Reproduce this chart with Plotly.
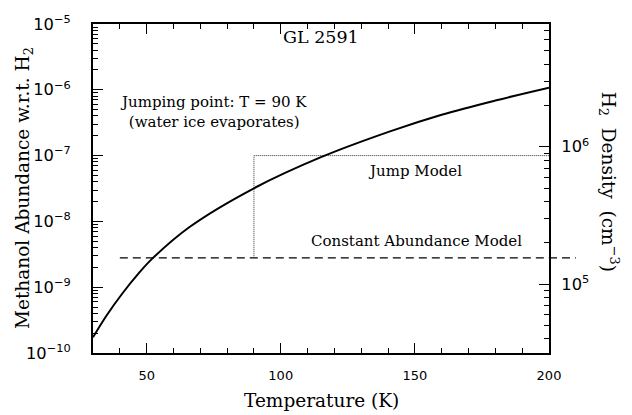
import plotly.graph_objects as go

# H2 density profile of GL 2591 as a function of dust temperature
temperature = [30, 35, 41, 47, 52, 66, 90, 115, 141, 160, 180, 200]
h2_density = [4.11e4, 5.9e4, 8.6e4, 1.2e5, 1.53e5, 2.61e5, 4.99e5, 8.4e5,
              1.30e6, 1.71e6, 2.17e6, 2.69e6]

# Methanol abundance models
const_T = [40, 200]
const_T_end = 210          # constant-abundance line runs a bit past the frame
const_abund = 2.8e-9
jump_T = [90, 90, 200]
jump_abund = [2.8e-9, 1.0e-7, 1.0e-7]

X_RANGE = [30, 200]
Y_LOG_RANGE = [-10, -5]
Y2_LOG_RANGE = [4.5, 6.893]

SERIF = "DejaVu Serif"
SANS = "DejaVu Sans"

fig = go.Figure()

fig.add_trace(go.Scatter(
    x=const_T, y=[const_abund] * len(const_T), mode="lines",
    line=dict(color="black", width=1.3, dash="8px,5px"),
    showlegend=False, hoverinfo="skip"))

fig.add_trace(go.Scatter(
    x=jump_T, y=jump_abund, mode="lines",
    line=dict(color="#333333", width=1, dash="1px,1px"),
    showlegend=False, hoverinfo="skip"))

fig.add_trace(go.Scatter(
    x=temperature, y=h2_density, mode="lines", yaxis="y2",
    line=dict(color="black", width=2, shape="spline", smoothing=1.0),
    showlegend=False, hoverinfo="skip"))


def to_paper_x(t):
    return (t - X_RANGE[0]) / (X_RANGE[1] - X_RANGE[0])


# overhang of the constant-abundance line beyond the right frame
fig.add_shape(type="line", xref="paper", yref="y",
              x0=1.0, x1=to_paper_x(const_T_end),
              y0=const_abund, y1=const_abund,
              line=dict(color="black", width=1.3, dash="8px,5px"))

axis_common = dict(
    showline=True, linecolor="black", linewidth=1.5,
    ticks="inside", ticklen=10, tickwidth=1, tickcolor="black",
    showgrid=False, zeroline=False,
    tickfont=dict(family=SANS, size=13, color="black"),
)

fig.update_layout(
    width=632, height=415,
    margin=dict(l=93, r=83, t=18, b=62),
    paper_bgcolor="white", plot_bgcolor="white",
    xaxis=dict(
        range=X_RANGE, tick0=0, dtick=50, mirror="ticks",
        minor=dict(ticks="inside", ticklen=5, tickcolor="black",
                   tick0=0, dtick=10, showgrid=False),
        ticklabelstandoff=10,
        **axis_common),
    yaxis=dict(
        type="log", range=Y_LOG_RANGE, dtick=1,
        exponentformat="power", showexponent="all",
        minor=dict(ticks="inside", ticklen=5, tickcolor="black",
                   dtick="D1", showgrid=False),
        ticklabelstandoff=18,
        **axis_common),
    yaxis2=dict(
        type="log", range=Y2_LOG_RANGE, dtick=1, overlaying="y", side="right",
        exponentformat="power", showexponent="all",
        minor=dict(ticks="inside", ticklen=5, tickcolor="black",
                   dtick="D1", showgrid=False),
        ticklabelstandoff=8,
        **axis_common),
)

ann_font = dict(family=SERIF, size=15, color="black")
title_font = dict(family=SERIF, size=18.5, color="black")

annotations = [
    dict(text="GL 2591", x=115, y=-5.2, xref="x", yref="y",
         font=dict(family=SERIF, size=17.5, color="black")),
    dict(text="Jumping point: T = 90 K<br>(water ice evaporates)",
         x=75, y=-6.34, xref="x", yref="y", align="center", font=ann_font),
    dict(text="Jump Model", x=150, y=-7.24, xref="x", yref="y", font=ann_font),
    dict(text="Constant Abundance Model", x=150.7, y=-8.30, xref="x", yref="y",
         font=ann_font),
    dict(text="Temperature (K)", x=0.5, y=-0.145, xref="paper", yref="paper",
         font=title_font),
    dict(text="Methanol Abundance w.r.t. H<sub>2</sub>", x=-0.151, y=0.502,
         xref="paper", yref="paper", textangle=-90, font=title_font),
    dict(text="H<sub>2</sub>\u00a0 Density\u00a0 (cm<sup>\u22123</sup>)",
         x=1.13, y=0.52, xref="paper", yref="paper", textangle=90,
         font=title_font),
]
for a in annotations:
    a.setdefault("showarrow", False)
    a.setdefault("xanchor", "center")
    a.setdefault("yanchor", "middle")
    fig.add_annotation(**a)

fig.write_html("out.html")
